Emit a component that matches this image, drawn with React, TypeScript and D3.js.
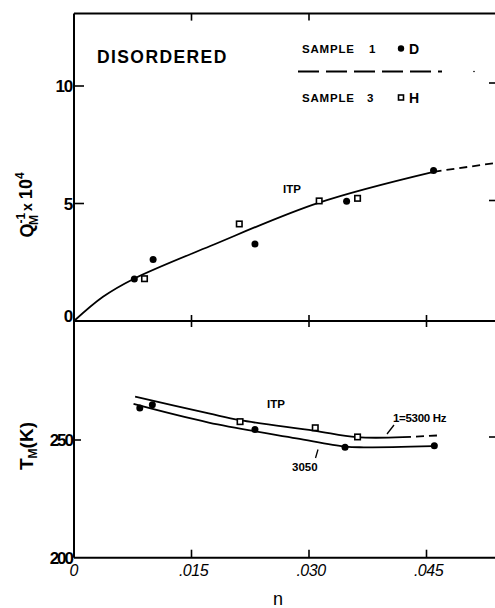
import React from "react";
import * as d3 from "d3";

// ---------- data ----------
const xTicks = [0.015, 0.03, 0.045];
const xTickLabels = [".015", ".030", ".045"];
const qTicks = [0, 5, 10];
const tTicks = [200, 250];

// upper panel: Q_M^-1 x 10^4
const s1UpperX = [0.0077, 0.0101, 0.0231, 0.0348, 0.0459];
const s1UpperY = [1.79, 2.62, 3.28, 5.1, 6.4];
const s3UpperX = [0.009, 0.0211, 0.0313, 0.0362];
const s3UpperY = [1.8, 4.13, 5.11, 5.22];
const fitUpperX = [0, 0.0037, 0.0076, 0.0174, 0.0312, 0.0459];
const fitUpperY = [0, 1.03, 1.79, 3.19, 5.03, 6.35];
const extUpperX = [0.0459, 0.0537];
const extUpperY = [6.35, 6.72];

// lower panel: T_M (K)
const s1LowerX = [0.0084, 0.01, 0.0231, 0.0346, 0.046];
const s1LowerY = [263.6, 265.0, 254.5, 246.9, 247.6];
const s3LowerX = [0.0212, 0.0308, 0.0362];
const s3LowerY = [257.8, 255.2, 251.3];
const fit5300X = [0.0078, 0.0172, 0.0212, 0.0306, 0.0361, 0.042];
const fit5300Y = [268.4, 261.3, 258.4, 254.0, 251.2, 251.2];
const ext5300X = [0.042, 0.0469];
const ext5300Y = [251.2, 252.0];
const fit3050X = [0.0076, 0.0172, 0.0284, 0.0346, 0.037, 0.0458];
const fit3050Y = [265.3, 257.4, 250.7, 247.2, 246.9, 247.4];

const zip = (a: number[], b: number[]) => a.map((v, i) => [v, b[i]] as [number, number]);

export default function App() {
  const W = 495, H = 608;
  const x = d3.scaleLinear().domain([0, 0.045]).range([74, 426.5]);
  const xEnd = 0.054;
  const yQ = d3.scaleLinear().domain([0, 10]).range([321, 86]);
  const yT = d3.scaleLinear().domain([200, 250]).range([557.7, 440]);
  const qTop = 13.08;

  const curve = d3.curveCatmullRom.alpha(0.5);
  const lineQ = d3.line<[number, number]>().x(d => x(d[0])).y(d => yQ(d[1])).curve(curve);
  const lineT = d3.line<[number, number]>().x(d => x(d[0])).y(d => yT(d[1])).curve(curve);
  const font = "'Liberation Sans', Arial, Helvetica, sans-serif";
  const sq = 5.5;

  return (
    <svg width={W} height={H} style={{ position: "absolute", left: 0, top: 0, background: "#fff" }} fontFamily={font}>
      {/* frame */}
      <g stroke="#000" strokeWidth={2} fill="none">
        <line x1={x(0)} x2={x(0)} y1={yQ(qTop)} y2={yT(200)} />
        <line x1={x(0)} x2={x(xEnd)} y1={yQ(qTop)} y2={yQ(qTop)} />
        <line x1={x(0)} x2={x(xEnd)} y1={yQ(0)} y2={yQ(0)} />
        <line x1={x(0)} x2={x(xEnd)} y1={yT(200)} y2={yT(200)} />
      </g>
      {/* ticks */}
      <g stroke="#000" strokeWidth={1.6}>
        {xTicks.map(t => (
          <line key={"m" + t} x1={x(t)} x2={x(t)} y1={yQ(0) - 6} y2={yQ(0) + 6} />
        ))}
        {xTicks.map(t => (
          <line key={"b" + t} x1={x(t)} x2={x(t)} y1={yT(200)} y2={yT(200) - 8} />
        ))}
        {xTicks.slice(0, 2).map(t => (
          <line key={"t" + t} x1={x(t)} x2={x(t)} y1={yQ(qTop)} y2={yQ(qTop) + 7} />
        ))}
        {qTicks.slice(1).map(t => (
          <line key={"q" + t} x1={x(0)} x2={x(0) + 10} y1={yQ(t)} y2={yQ(t)} />
        ))}
        <line x1={x(0)} x2={x(0) + 7} y1={yT(250)} y2={yT(250)} />
        {qTicks.slice(1).map(t => (
          <line key={"rq" + t} x1={489} x2={W} y1={yQ(t) - 3} y2={yQ(t) - 3} />
        ))}
        <line x1={489} x2={W} y1={yT(250) - 3} y2={yT(250) - 3} />
      </g>
      {/* tick labels */}
      <g fontSize={17} textAnchor="end" fill="#000" fontWeight="bold">
        {qTicks.map(t => (
          <text key={"ql" + t} x={x(0) - 2} y={yQ(t) + (t === 0 ? 1 : 6)} letterSpacing={-1.2}>{t}</text>
        ))}
        {tTicks.map(t => (
          <text key={"tl" + t} x={x(0) - 2} y={yT(t) + 6} letterSpacing={-2}>{t}</text>
        ))}
      </g>
      <g fontSize={16} fontStyle="italic" textAnchor="middle" fill="#000">
        <text x={x(0)} y={576}>0</text>
        {xTicks.map((t, i) => (
          <text key={"xl" + t} x={x(t) + 2} y={576} letterSpacing={-0.5}>{xTickLabels[i]}</text>
        ))}
      </g>
      <text x={278} y={605} fontSize={18} textAnchor="middle">n</text>

      {/* axis titles */}
      <text transform="translate(33,205) rotate(-90)" fontSize={18} textAnchor="middle" fontWeight="bold">
        Q
        <tspan fontSize={12} dy={-8}>-1</tspan>
        <tspan fontSize={12} dy={13} dx={-12}>M</tspan>
        <tspan fontSize={14} dy={-6} dx={4}>x</tspan>
        <tspan fontSize={18} dy={0} dx={4}>10</tspan>
        <tspan fontSize={12} dy={-8}>4</tspan>
      </text>
      <text transform="translate(33,446) rotate(-90)" fontSize={19} textAnchor="middle" fontWeight="bold">
        T
        <tspan fontSize={12} dy={4}>M</tspan>
        <tspan fontSize={19} dy={-4}>(K)</tspan>
      </text>

      {/* annotations */}
      <text x={97} y={63} fontSize={17.5} fontWeight="bold" letterSpacing={1.4}>DISORDERED</text>
      <g fontSize={11.5} fontWeight="bold" letterSpacing={0.8}>
        <text x={302} y={53}>SAMPLE</text>
        <text x={369} y={53}>1</text>
        <text x={409} y={54} fontSize={14} letterSpacing={0}>D</text>
        <text x={302} y={102}>SAMPLE</text>
        <text x={367} y={102}>3</text>
        <text x={409} y={103} fontSize={14} letterSpacing={0}>H</text>
      </g>
      <circle cx={401} cy={48.5} r={3.2} fill="#000" />
      <rect x={398.5} y={95} width={5} height={5} fill="#fff" stroke="#000" strokeWidth={1.6} />
      <line x1={298} x2={442} y1={71.5} y2={71.5} stroke="#000" strokeWidth={1.8} strokeDasharray="21 7" />
      <circle cx={474} cy={71.5} r={0.8} fill="#000" />

      <text x={283} y={193} fontSize={11.5} fontWeight="bold">ITP</text>
      <text x={267} y={408} fontSize={11.5} fontWeight="bold">ITP</text>
      <text x={393} y={422} fontSize={11.5} fontWeight="bold" letterSpacing={-0.3}>1=5300 Hz</text>
      <line x1={394} y1={425} x2={387} y2={434} stroke="#000" strokeWidth={1.3} />
      <text x={292} y={471} fontSize={11.5} fontWeight="bold">3050</text>
      <line x1={318} y1={449.5} x2={315.5} y2={458} stroke="#000" strokeWidth={1.3} />

      {/* curves */}
      <g fill="none" stroke="#000" strokeWidth={1.8}>
        <path d={lineQ(zip(fitUpperX, fitUpperY)) || ""} />
        <path d={lineQ(zip(extUpperX, extUpperY)) || ""} strokeDasharray="8 5" />
        <path d={lineT(zip(fit5300X, fit5300Y)) || ""} />
        <path d={lineT(zip(ext5300X, ext5300Y)) || ""} strokeDasharray="8 5" />
        <path d={lineT(zip(fit3050X, fit3050Y)) || ""} />
      </g>

      {/* markers */}
      <g fill="#000">
        {zip(s1UpperX, s1UpperY).map((d, i) => (
          <circle key={"su" + i} cx={x(d[0])} cy={yQ(d[1])} r={3.5} />
        ))}
        {zip(s1LowerX, s1LowerY).map((d, i) => (
          <circle key={"sl" + i} cx={x(d[0])} cy={yT(d[1])} r={3.5} />
        ))}
      </g>
      <g fill="#fff" stroke="#000" strokeWidth={1.6}>
        {zip(s3UpperX, s3UpperY).map((d, i) => (
          <rect key={"ou" + i} x={x(d[0]) - sq / 2} y={yQ(d[1]) - sq / 2} width={sq} height={sq} />
        ))}
        {zip(s3LowerX, s3LowerY).map((d, i) => (
          <rect key={"ol" + i} x={x(d[0]) - sq / 2} y={yT(d[1]) - sq / 2} width={sq} height={sq} />
        ))}
      </g>
    </svg>
  );
}
